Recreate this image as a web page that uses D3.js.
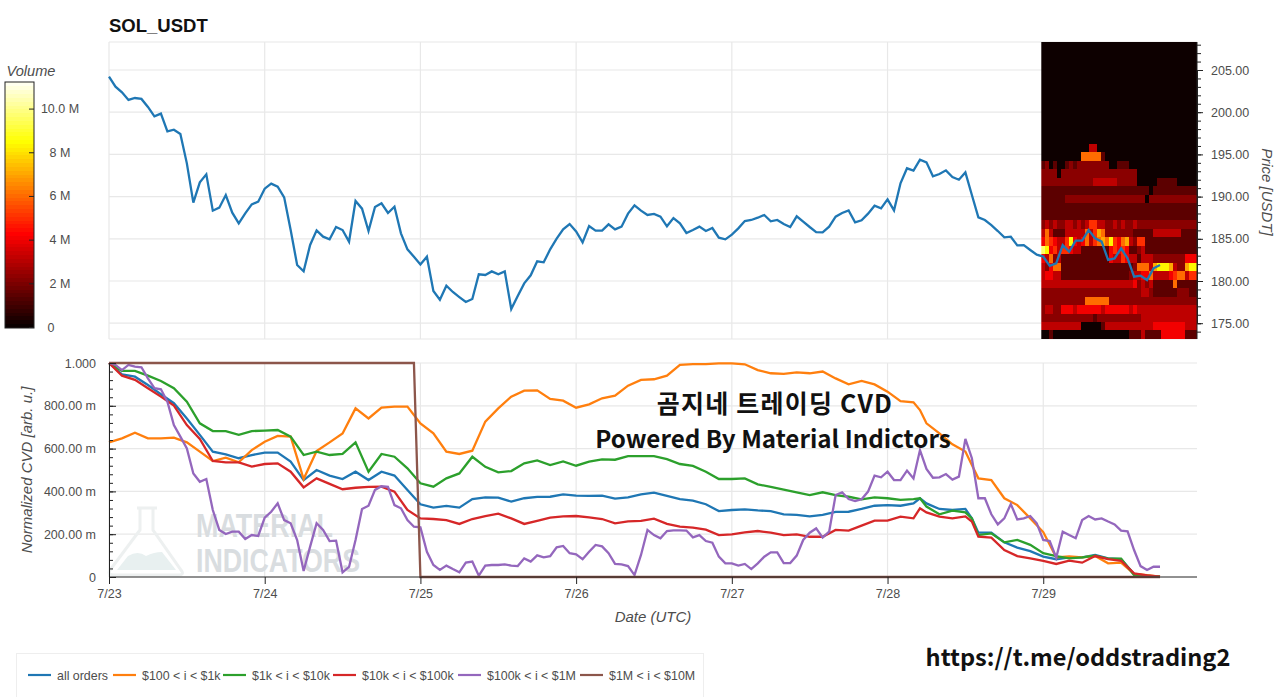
<!DOCTYPE html>
<html>
<head>
<meta charset="utf-8">
<script src="https://cdn.jsdelivr.net/npm/d3@7"></script>
<style>
    html, body { margin: 0; padding: 0; background: #fff; overflow: hidden; }
    svg { display: block; }
    text { font-family: "Liberation Sans", Arial, sans-serif; }
</style>
</head>
<body>
<svg id="chart" width="1280" height="697"></svg>
<script>
"use strict";

// Hours since 7/23 00:00, one price point per hour
const priceValues = [
    204.21,203.03,202.35,201.45,201.68,201.57,200.62,199.51,199.83,197.73,197.93,197.42,193.94,189.28,191.69,192.64,
    188.33,188.69,190.19,188.10,186.83,188.02,189.08,189.40,190.94,191.53,191.18,189.91,186.04,181.90,181.15,184.27,
    186.00,185.25,184.94,186.40,186.04,184.66,189.48,188.57,185.92,188.77,189.20,188.06,188.81,185.65,183.75,182.88,
    181.97,182.88,178.81,177.79,179.45,178.70,178.10,177.51,177.87,180.79,180.71,181.14,180.79,181.14,176.68,178.22,
    179.72,180.67,182.33,182.21,183.75,185.02,186.12,186.75,185.88,184.58,186.51,185.96,185.96,186.71,186.12,186.44,
    187.98,188.96,188.33,187.82,187.94,187.62,186.48,187.46,186.83,185.69,186.04,186.44,185.92,186.28,185.13,184.94,
    185.50,186.24,187.11,187.23,187.50,187.82,187.07,187.23,186.75,186.40,187.66,187.03,186.40,185.80,185.76,186.44,
    187.62,188.05,188.37,186.95,187.19,187.98,188.92,188.61,189.67,188.37,191.57,193.35,193.07,194.37,194.06,192.40,
    192.68,193.11,192.32,192.00,192.87,190.19,187.54,187.23,186.63,185.92,185.17,185.25,184.22,184.26,183.67,183.12,
    182.90,181.80,182.09,184.26,183.47,184.78,184.78,186.04,185.05,184.66,182.49,182.68,183.87,182.68,180.51,180.63,
    180.12,181.50,181.89
];

// Smoother CVD series are read every 2 hours, plus 125 and 133 for the sharp spots
const cvdHours = [
    0,2,4,6,8,10,12,14,16,18,20,22,24,26,28,30,32,34,36,38,40,42,44,46,48,
    50,52,54,56,58,60,62,64,66,68,70,72,74,76,78,80,82,84,86,88,90,92,94,96,
    98,100,102,104,106,108,110,112,114,116,118,120,122,124,125,126,128,130,132,133,134,136,138,140,142,144,
    146,148,150,152,154,156,158,160,162
];
const allOrders = [
    1.000,.947,.936,.897,.854,.812,.741,.664,.586,.573,.555,.570,.581,.581,.539,.453,.500,.474,.458,.492,.453,.492,.474,.407,.340,
    .324,.332,.324,.364,.372,.371,.352,.368,.374,.375,.386,.380,.379,.380,.366,.372,.386,.394,.379,.364,.357,.340,.308,.313,
    .316,.311,.308,.293,.290,.283,.290,.304,.305,.318,.333,.336,.333,.344,.368,.344,.318,.313,.318,.274,.207,.207,.162,.137,.121,.095,
    .083,.092,.092,.103,.087,.083,.014,.005,.002
];
const orders100to1k = [
    .629,.648,.674,.648,.648,.651,.629,.586,.542,.558,.536,.593,.632,.659,.656,.458,.589,.629,.671,.788,.741,.791,.796,.796,.718,
    .671,.586,.575,.590,.726,.788,.843,.871,.872,.832,.824,.791,.807,.835,.847,.894,.921,.924,.941,.991,.995,.995,.998,.998,
    .994,.967,.952,.949,.956,.952,.960,.928,.900,.916,.900,.866,.822,.816,.780,.718,.671,.620,.586,.523,.461,.453,.368,.336,.274,.210,
    .092,.096,.092,.098,.064,.067,.014,.009,.002
];
const orders1kto10k = [
    1.000,.963,.963,.941,.916,.882,.819,.718,.682,.682,.664,.682,.684,.687,.656,.570,.586,.570,.575,.629,.492,.575,.562,.508,.438,
    .422,.461,.484,.562,.515,.489,.495,.531,.545,.523,.540,.520,.539,.550,.548,.565,.565,.565,.551,.528,.519,.492,.458,.458,
    .461,.433,.421,.408,.396,.383,.396,.383,.375,.363,.372,.368,.360,.364,.368,.329,.293,.310,.302,.274,.196,.204,.162,.173,.150,.111,
    .098,.087,.092,.100,.086,.086,.009,.005,.002
];
const orders10kto100k = [
    1.000,.941,.921,.882,.843,.801,.710,.645,.542,.536,.536,.516,.528,.531,.492,.419,.461,.435,.410,.417,.421,.422,.399,.313,.274,
    .271,.266,.248,.271,.285,.296,.274,.248,.262,.277,.283,.285,.279,.271,.251,.260,.262,.273,.248,.235,.231,.221,.196,.199,
    .209,.215,.207,.196,.199,.188,.188,.220,.217,.240,.263,.263,.282,.274,.321,.302,.282,.274,.283,.259,.188,.184,.126,.098,.087,.075,
    .061,.076,.067,.098,.083,.076,.017,.008,.002
];

// Purple one jumps around, so this one is hourly
const orders100kto1M = [
    1.000,.991,.967,.991,.983,.980,.928,.882,.877,.819,.710,.656,.601,.484,.445,.458,.313,.220,.201,.212,.212,.178,.196,.192,
    .277,.305,.344,.266,.251,.173,.028,.142,.251,.220,.168,.170,.022,.047,.173,.318,.333,.407,.424,.421,.336,.321,.266,.235,
    .232,.118,.056,.033,.053,.037,.022,.067,.072,.006,.053,.056,.056,.059,.053,.051,.087,.072,.101,.092,.097,.139,.145,.111,
    .106,.083,.118,.150,.143,.111,.061,.059,.051,.009,.103,.220,.196,.181,.215,.218,.218,.217,.185,.196,.168,.160,.095,.064,
    .064,.053,.061,.037,.064,.095,.115,.115,.065,.065,.100,.173,.207,.227,.184,.212,.383,.396,.364,.355,.363,.399,.474,.466,
    .492,.453,.453,.497,.460,.593,.505,.464,.466,.481,.455,.469,.645,.555,.368,.368,.293,.246,.274,.341,.269,.274,.285,.251,
    .173,.168,.090,.212,.196,.181,.266,.285,.269,.274,.259,.246,.217,.213,.126,.051,.033,.048,.048
];
const orders1Mto10MHours = [0, 47, 48, 162];
const orders1Mto10M = [1, 1, 0, 0];

const seriesNames = ["all orders", "$100 < i < $1k", "$1k < i < $10k", "$10k < i < $100k", "$100k < i < $1M", "$1M < i < $10M"];
const seriesColors = ["#1f77b4", "#ff7f0e", "#2ca02c", "#d62728", "#9467bd", "#8c564b"];

const dayTicks = [0, 24, 48, 72, 96, 120, 144];
const dayLabels = ["7/23", "7/24", "7/25", "7/26", "7/27", "7/28", "7/29"];
const priceTicks = [175, 180, 185, 190, 195, 200, 205];
const cvdTicks = [0, 0.2, 0.4, 0.6, 0.8, 1];
const cvdLabels = ["0", "200.00 m", "400.00 m", "600.00 m", "800.00 m", "1.000"];
const volumeTicks = [0, 2, 4, 6, 8, 10];
const volumeLabels = ["0", "2 M", "4 M", "6 M", "8 M", "10.0 M"];
const volumeMax = 11.24;

// Order book heatmap: top row first, one char per column, each char picks a volume level
const heatLevels = [0, 1.4, 2.2, 3.1, 4, 5, 6, 7, 8.3, 9.6];
const heatStartHour = 143.7;
const heatEndHour = 167.7;
const heatTopPrice = 208.32;
const heatBottomPrice = 173.13;
const heatRows = [
    "000000000000000000000000000000000000000",
    "000000000000000000000000000000000000000",
    "000000000000000000000000000000000000000",
    "000000000000000000000000000000000000000",
    "000000000000000000000000000000000000000",
    "000000000000000000000000000000000000000",
    "000000000000000000000000000000000000000",
    "000000000000000000000000000000000000000",
    "000000000000000000000000000000000000000",
    "000000000000000000000000000000000000000",
    "000000000000000000000000000000000000000",
    "000000000000000000000000000000000000000",
    "000000000000330000000000000000000000000",
    "000000000066666100000000000000000000000",
    "120100121222222220011100000000000000000",
    "222202222222222222222222000000000000000",
    "222222222222233333322222000001111100000",
    "111111111111111111111111111011111111111",
    "111111222222222222222222220222222222222",
    "111111111111111111111111111111111111111",
    "111111111111111111111111111111111111111",
    "232322332323553322323223222222222222222",
    "363111333336357622222221111133333331111",
    "465433584346356768546732551111111111111",
    "984535543311111114545411231111111111111",
    "436231111111111114335433133322222222444",
    "324661111111111111111112666378887322788",
    "344331111111111111111123344633334566355",
    "333333333333333333333334232311111611111",
    "222222222222222222222222233211111122211",
    "222222222226666662222222222222222222222",
    "233224443444444344444434333333333333333",
    "222222222222212222222222233333333333333",
    "333333333300000133333333333344444444333",
    "001000000000000000000011131111444444111"
];

const svg = d3.select("#chart");

// Slight blur so the heatmap cells soften like the reference
svg.append("defs").append("filter").attr("id", "soft")
    .append("feGaussianBlur").attr("stdDeviation", 0.7);

// Layout
const plotLeft = 109, plotRight = 1197;
const priceTop = 42, priceBottom = 339;
const cvdTop = 363, cvdBottom = 577;
const gridColor = "#e8e8e8";
const axisText = "#4d4d4d";

const x = d3.scaleLinear().domain([0, 167.7]).range([plotLeft, plotRight]);
const yPrice = d3.scaleLinear().domain([175, 205]).range([323.2, 70]);
const yCvd = d3.scaleLinear().domain([0, 1]).range([cvdBottom, cvdTop]);
const yVolume = d3.scaleLinear().domain([0, volumeMax]).range([327.5, 82]);

// matplotlib style "hot" colormap
const hot = d3.scaleLinear()
    .domain([0, volumeMax * 0.375, volumeMax * 0.75, volumeMax])
    .range(["#0a0000", "#ff0000", "#ffff00", "#ffffff"])
    .clamp(true);

function drawGrid(top, bottom, hLines) {
    const grid = svg.append("g").attr("stroke", gridColor).attr("stroke-width", 1.2);
    grid.selectAll("line.v").data(dayTicks).join("line")
        .attr("x1", d => x(d)).attr("x2", d => x(d))
        .attr("y1", top).attr("y2", bottom);
    grid.selectAll("line.h").data(hLines).join("line")
        .attr("x1", plotLeft).attr("x2", plotRight)
        .attr("y1", d => d).attr("y2", d => d);
}

drawGrid(priceTop, priceBottom, priceTicks.map(yPrice).concat([priceTop, priceBottom]));
drawGrid(cvdTop, cvdBottom, cvdTicks.slice(1).map(yCvd));

// Watermark sits below the lines
const mark = svg.append("g");
mark.append("path")
    .attr("d", "M137,508 H157 M140,508 V530 L110,570 Q107,575 114,575 H178 Q185,575 181,570 L153,530 V508")
    .attr("fill", "none").attr("stroke", "#edf0f0").attr("stroke-width", 3);
mark.append("path")
    .attr("d", "M117,570 L128,556 Q138,550 146,556 Q154,552 162,552 L176,570 Z")
    .attr("fill", "#e8f0f0");
mark.selectAll("text").data(["MATERIAL", "INDICATORS"]).join("text")
    .attr("x", 196)
    .attr("y", (d, i) => i === 0 ? 537 : 572)
    .attr("textLength", (d, i) => i === 0 ? 137 : 164)
    .attr("lengthAdjust", "spacingAndGlyphs")
    .style("font-size", "34px").style("font-weight", "bold")
    .style("fill", "#d9dde0")
    .text(d => d);

// Heatmap cells
const heatCols = heatRows[0].length;
const heatColWidth = (heatEndHour - heatStartHour) / heatCols;
const heatRowHeight = (heatTopPrice - heatBottomPrice) / heatRows.length;
const heatCells = [];
heatRows.forEach((row, r) => {
    row.split("").forEach((v, c) => heatCells.push({ r: r, c: c, v: heatLevels[+v] }));
});
svg.append("clipPath").attr("id", "heat-clip").append("rect")
    .attr("x", x(heatStartHour)).attr("width", x(heatEndHour) - x(heatStartHour))
    .attr("y", priceTop).attr("height", priceBottom - priceTop);
svg.append("g").attr("clip-path", "url(#heat-clip)")
    .append("g").attr("filter", "url(#soft)").attr("shape-rendering", "crispEdges")
    .selectAll("rect").data(heatCells).join("rect")
    .attr("x", d => x(heatStartHour + d.c * heatColWidth))
    .attr("width", x(heatColWidth) - x(0) + 0.5)
    .attr("y", d => yPrice(heatTopPrice - d.r * heatRowHeight))
    .attr("height", yPrice(0) - yPrice(heatRowHeight) + 0.5)
    .attr("fill", d => hot(d.v));

// Price line
svg.append("path")
    .attr("d", d3.line().x((d, i) => x(i)).y(d => yPrice(d))(priceValues))
    .attr("fill", "none").attr("stroke", seriesColors[0]).attr("stroke-width", 2.3);

// CVD lines
const cvdSeries = [allOrders, orders100to1k, orders1kto10k, orders10kto100k];
const cvdLine = d3.line().x(d => x(d[0])).y(d => yCvd(d[1]));
cvdSeries.forEach((values, i) => {
    svg.append("path")
        .attr("d", cvdLine(values.map((v, j) => [cvdHours[j], v])))
        .attr("fill", "none").attr("stroke", seriesColors[i]).attr("stroke-width", 2.3);
});
svg.append("path")
    .attr("d", cvdLine(orders100kto1M.map((v, j) => [j, v])))
    .attr("fill", "none").attr("stroke", seriesColors[4]).attr("stroke-width", 2.3);
svg.append("path")
    .attr("d", cvdLine(orders1Mto10M.map((v, j) => [orders1Mto10MHours[j], v])))
    .attr("fill", "none").attr("stroke", seriesColors[5]).attr("stroke-width", 2.3);

// Axes
function styleAxis(g) {
    g.selectAll("text").style("font-size", "12.5px").style("fill", axisText);
    g.selectAll("path,line").attr("stroke", "#222");
    return g;
}

styleAxis(svg.append("g")
    .attr("transform", `translate(${plotRight},0)`)
    .call(d3.axisRight(yPrice).tickValues(d3.range(174, 209)).tickSize(4).tickFormat("")));
styleAxis(svg.append("g")
    .attr("transform", `translate(${plotRight},0)`)
    .call(d3.axisRight(yPrice).tickValues(priceTicks).tickSize(6).tickPadding(8).tickFormat(d3.format(".2f")))
    .call(g => g.select(".domain").remove()));
svg.append("line").attr("x1", plotRight).attr("x2", plotRight)
    .attr("y1", priceTop).attr("y2", priceBottom).attr("stroke", "#222");

styleAxis(svg.append("g")
    .attr("transform", `translate(${plotLeft},0)`)
    .call(d3.axisLeft(yCvd).tickValues(d3.range(0, 1.001, 0.04)).tickSizeInner(-4).tickSizeOuter(0).tickFormat("")));
styleAxis(svg.append("g")
    .attr("transform", `translate(${plotLeft},0)`)
    .call(d3.axisLeft(yCvd).tickValues(cvdTicks).tickSizeInner(-7).tickSizeOuter(0).tickPadding(13)
        .tickFormat((d, i) => cvdLabels[i]))
    .call(g => g.selectAll(".domain").remove()));

styleAxis(svg.append("g")
    .attr("transform", `translate(0,${cvdBottom})`)
    .call(d3.axisBottom(x).tickValues(dayTicks).tickSizeInner(7).tickSizeOuter(0).tickPadding(5)
        .tickFormat((d, i) => dayLabels[i])))
    .call(g => g.select(".domain").attr("d", `M${plotLeft},0H${plotRight}`));

// Titles
svg.append("text").attr("x", plotLeft).attr("y", 32)
    .style("font-size", "18.5px").style("font-weight", "bold").style("fill", "#111")
    .text("SOL_USDT");

function axisTitle(label, px, py, angle) {
    svg.append("text")
        .attr("transform", `translate(${px},${py}) rotate(${angle})`)
        .attr("text-anchor", "middle")
        .style("font-size", "15px").style("font-style", "italic").style("fill", axisText)
        .text(label);
}
axisTitle("Price [USDT]", 1262, 192, 90);
axisTitle("Normalized CVD [arb. u.]", 32, 470, -90);
axisTitle("Date (UTC)", 653, 622, 0);

// Colorbar
svg.append("text").attr("x", 6.5).attr("y", 76)
    .style("font-size", "14.6px").style("font-style", "italic").style("fill", axisText)
    .text("Volume");
const barSteps = d3.range(0, volumeMax, volumeMax / 64);
svg.append("g").attr("shape-rendering", "crispEdges")
    .selectAll("rect").data(barSteps).join("rect")
    .attr("x", 5).attr("width", 29)
    .attr("y", d => yVolume(d + volumeMax / 64))
    .attr("height", yVolume(0) - yVolume(volumeMax / 64) + 0.5)
    .attr("fill", d => hot(d));
svg.append("rect").attr("x", 5).attr("y", 82).attr("width", 29).attr("height", 246)
    .attr("fill", "none").attr("stroke", "#222").attr("stroke-width", 1);
svg.append("g").selectAll("line").data(volumeTicks).join("line")
    .attr("x1", 29).attr("x2", 34)
    .attr("y1", d => yVolume(d)).attr("y2", d => yVolume(d))
    .attr("stroke", "#222");
svg.append("g").selectAll("text").data(volumeTicks).join("text")
    .attr("x", d => d === 0 ? 51 : 60)
    .attr("y", d => yVolume(d) + 4)
    .attr("text-anchor", "middle")
    .style("font-size", "12.5px").style("fill", axisText)
    .text((d, i) => volumeLabels[i]);

// Legend
const legendLineX = [28, 113, 223, 333, 458, 580];
svg.append("rect").attr("x", 16.5).attr("y", 653.5).attr("width", 687).attr("height", 50)
    .attr("fill", "#fff").attr("stroke", "#eeeeee");
const legend = svg.append("g").selectAll("g").data(seriesNames).join("g")
    .attr("transform", (d, i) => `translate(${legendLineX[i]},675)`);
legend.append("line").attr("x1", 0).attr("x2", 23)
    .attr("stroke", (d, i) => seriesColors[i]).attr("stroke-width", 2.2);
legend.append("text").attr("x", 29).attr("y", 4.5)
    .style("font-size", "12.4px").style("fill", axisText)
    .text(d => d);

// Overlaid captions
const captionFont = '"Noto Sans CJK KR", "Noto Sans", sans-serif';
function caption(label, px, py, size, spacing) {
    svg.append("text").attr("x", px).attr("y", py).attr("text-anchor", "middle")
        .style("font-family", captionFont).style("font-size", size + "px").style("font-weight", "bold")
        .style("letter-spacing", spacing + "px")
        .style("fill", "#111")
        .text(label);
}
caption("곰지네 트레이딩 CVD", 775, 413, 25, 1.2);
caption("Powered By Material Indictors", 773, 448, 24.2, 0);
caption("https://t.me/oddstrading2", 1078, 666, 23.6, 0);
</script>
</body>
</html>
